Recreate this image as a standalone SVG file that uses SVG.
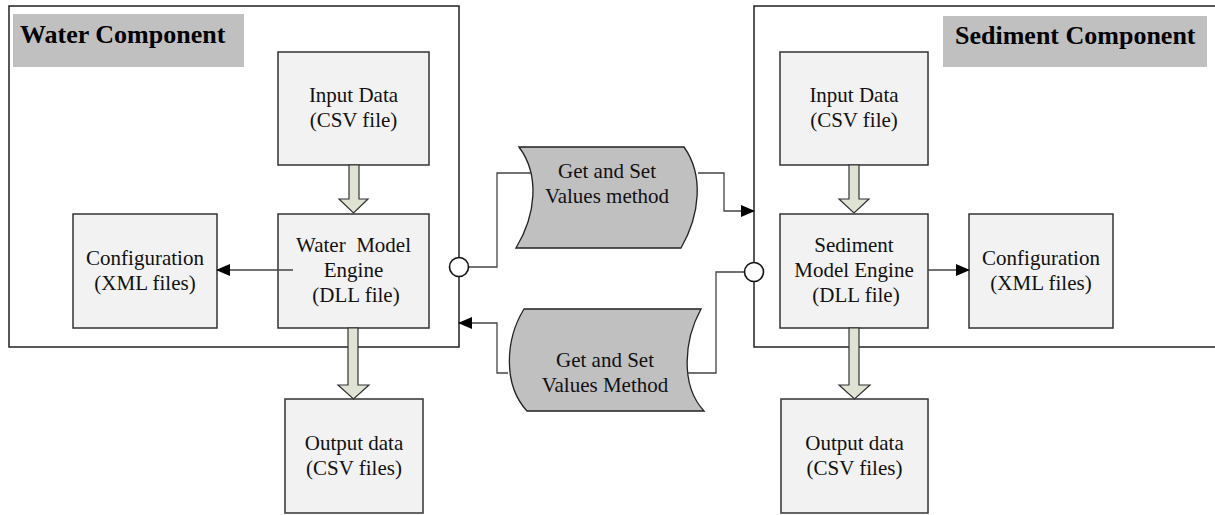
<svg xmlns="http://www.w3.org/2000/svg" width="1215" height="515" viewBox="0 0 1215 515">
<style>
.container{fill:none;stroke:#222;stroke-width:1.5}
.title{fill:#c0c0c0;stroke:none}
.tt{font-family:'Liberation Serif','Times New Roman',Times,'Nimbus Roman','Noto Serif','DejaVu Serif',FreeSerif,serif;font-weight:bold;font-size:26px;fill:#000}
.box{fill:#f2f2f2;stroke:#333;stroke-width:1.5}
.t{font-family:'Liberation Serif','Times New Roman',Times,'Nimbus Roman','Noto Serif','DejaVu Serif',FreeSerif,serif;font-size:21px;fill:#111;text-anchor:middle}
.tape{fill:#c0c0c0;stroke:#222;stroke-width:1.3}
.blk{fill:#dfe3d3;stroke:#333;stroke-width:1.2}
.ln{fill:none;stroke:#444;stroke-width:1.3}
.port{fill:#fff;stroke:#111;stroke-width:1.6}
</style>
<defs>
<marker id="ah2" markerWidth="14" markerHeight="14" refX="13" refY="6" orient="auto" markerUnits="userSpaceOnUse" viewBox="0 0 14 12">
<path d="M0,0 L14,6 L0,12 Z" fill="#000"/>
</marker>
</defs>
<rect width="1215" height="515" fill="#fff"/>

<g id="water-component">
<rect class="container" x="9" y="6" width="450" height="341"/>
<rect class="title" x="13" y="14" width="231" height="53"/>
<text class="tt" x="20" y="43">Water Component</text>
</g>
<g id="sediment-component">
<rect class="container" x="754" y="6" width="470" height="341"/>
<rect class="title" x="943" y="16" width="264" height="51"/>
<text class="tt" x="955" y="44">Sediment Component</text>
</g>

<g id="water-input">
<rect class="box" x="278" y="52" width="151" height="113"/>
<text class="t" x="353.5" y="102">Input Data</text>
<text class="t" x="353.5" y="127">(CSV file)</text>
</g>
<g id="water-engine">
<rect class="box" x="278" y="214" width="151" height="114"/>
<text class="t" x="353.5" y="252">Water&#160; Model</text>
<text class="t" x="353.5" y="277">Engine</text>
<text class="t" x="356" y="302">(DLL file)</text>
</g>
<g id="water-config">
<rect class="box" x="73" y="214" width="144" height="114"/>
<text class="t" x="145" y="265">Configuration</text>
<text class="t" x="145" y="290">(XML files)</text>
</g>
<g id="water-output">
<rect class="box" x="285" y="399" width="138" height="114"/>
<text class="t" x="354" y="450">Output data</text>
<text class="t" x="354" y="475">(CSV files)</text>
</g>

<g id="sediment-input">
<rect class="box" x="780" y="52" width="148" height="113"/>
<text class="t" x="854" y="102">Input Data</text>
<text class="t" x="854" y="127">(CSV file)</text>
</g>
<g id="sediment-engine">
<rect class="box" x="780" y="214" width="148" height="114"/>
<text class="t" x="854" y="252">Sediment</text>
<text class="t" x="854" y="277">Model Engine</text>
<text class="t" x="856" y="302">(DLL file)</text>
</g>
<g id="sediment-config">
<rect class="box" x="969" y="214" width="144" height="114"/>
<text class="t" x="1041" y="265">Configuration</text>
<text class="t" x="1041" y="290">(XML files)</text>
</g>
<g id="sediment-output">
<rect class="box" x="781" y="399" width="147" height="114"/>
<text class="t" x="854.5" y="450">Output data</text>
<text class="t" x="854.5" y="475">(CSV files)</text>
</g>

<g id="get-set-top">
<path class="tape" d="M519,147 L684,147 C704,175 700,215 681,248 L516,248 C536,215 540,175 519,147 Z"/>
<text class="t" x="607" y="178">Get and Set</text>
<text class="t" x="607" y="203">Values method</text>
</g>
<g id="get-set-bottom">
<path class="tape" d="M524,309 L701,309 C684,340 680,385 704,411 L527,411 C503,385 505,340 524,309 Z"/>
<text class="t" x="605" y="367">Get and Set</text>
<text class="t" x="605" y="392">Values Method</text>
</g>

<g id="connectors">
<path class="blk" d="M349,165 L359,165 L359,199 L368,199 L353.5,213 L339,199 L349,199 Z"/>
<path class="blk" d="M849,165 L859,165 L859,199 L869,199 L854,213 L839,199 L849,199 Z"/>
<path class="blk" d="M348,328 L358,328 L358,385 L369,385 L353.5,399 L338,385 L348,385 Z"/>
<path class="blk" d="M849,328 L859,328 L859,385 L870,385 L854.5,399 L839,385 L849,385 Z"/>
<line class="ln" x1="293" y1="270" x2="217" y2="270" marker-end="url(#ah2)"/>
<line class="ln" x1="928" y1="270" x2="969" y2="270" marker-end="url(#ah2)"/>
<polyline class="ln" points="469,267 497,267 497,173 532,173"/>
<polyline class="ln" points="698,173 724,173 724,211 754,211" marker-end="url(#ah2)"/>
<polyline class="ln" points="744,272 716,272 716,373 688,373"/>
<polyline class="ln" points="508,373 497,373 497,323 459,323" marker-end="url(#ah2)"/>
<circle class="port" cx="459" cy="267" r="9.5"/>
<circle class="port" cx="754" cy="272" r="9.5"/>
</g>
</svg>
